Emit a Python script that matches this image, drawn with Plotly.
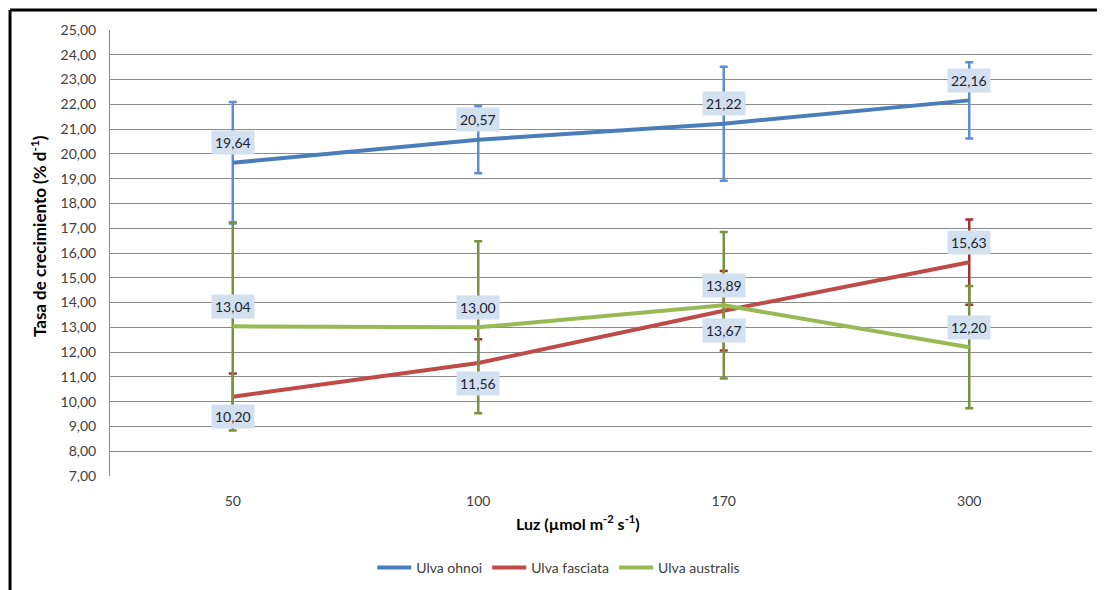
import plotly.graph_objects as go

categories = ["50", "100", "170", "300"]
ohnoi = [19.64, 20.57, 21.22, 22.16]
ohnoi_err = [2.45, 1.35, 2.30, 1.54]
fasciata = [10.20, 11.56, 13.67, 15.63]
fasciata_err = [0.94, 0.96, 1.60, 1.72]
australis = [13.04, 13.00, 13.89, 12.20]
australis_err = [4.20, 3.47, 2.96, 2.47]
y_ticks = [7 + i for i in range(19)]
y_ticktext = [f"{v:.2f}".replace(".", ",") for v in y_ticks]

series = [
    ("Ulva ohnoi", ohnoi, ohnoi_err, "#4A7EBB", "#5A8FD6", [1, 1, 1, 1]),
    ("Ulva fasciata", fasciata, fasciata_err, "#BE4B48", "#A33330", [-1, -1, -1, 1]),
    ("Ulva australis", australis, australis_err, "#98B954", "#77933C", [1, 1, 1, 1]),
]

xpos = list(range(len(categories)))
fig = go.Figure()
FONT = "Lato, 'Open Sans', sans-serif"

for name, vals, errs, col, ecol, sides in series:
    fig.add_trace(go.Scatter(
        x=xpos, y=vals, name=name, mode="lines",
        line=dict(color=col, width=4),
        error_y=dict(type="data", array=errs, visible=True, color=ecol,
                     thickness=2.5, width=4),
    ))

annotations = []
for name, vals, errs, col, ecol, sides in series:
    for xi, v, s in zip(xpos, vals, sides):
        annotations.append(dict(
            x=xi, y=v, xref="x", yref="y", text=f"{v:.2f}".replace(".", ","),
            showarrow=False, yshift=20 * s,
            bgcolor="#D3E0F0", borderpad=3,
            font=dict(family=FONT, size=14, color="#1A2433"),
        ))

annotations.append(dict(
    x=0.4766, y=-0.105, xref="paper", yref="paper", showarrow=False,
    xanchor="center", yanchor="middle",
    text="<b>Luz (µmol m<sup>-2</sup> s<sup>-1</sup>)</b>",
    font=dict(family=FONT, size=16, color="black"),
))
annotations.append(dict(
    x=-0.0733, y=0.538, xref="paper", yref="paper", showarrow=False,
    xanchor="center", yanchor="middle", textangle=-90,
    text="<b>Tasa de crecimiento (% d<sup>-1</sup>)</b>",
    font=dict(family=FONT, size=17, color="black"),
))

fig.update_layout(
    width=1105, height=590,
    margin=dict(l=102, r=21, t=22, b=122, autoexpand=False),
    paper_bgcolor="white", plot_bgcolor="white",
    font=dict(family=FONT, size=14, color="#404040"),
    showlegend=True,
    legend=dict(orientation="h", x=0.457, xanchor="center", y=-0.206, yanchor="middle",
                font=dict(family=FONT, size=14, color="#404040"),
                itemwidth=34, tracegroupgap=0),
    annotations=annotations,
    shapes=[
        dict(type="line", xref="paper", yref="paper", x0=-0.1018, x1=1.05,
             y0=1.0448, y1=1.0448, line=dict(color="black", width=3)),
        dict(type="line", xref="paper", yref="paper", x0=-0.1018, x1=-0.1018,
             y0=1.0448, y1=-0.30, line=dict(color="black", width=3)),
    ],
)

fig.update_xaxes(
    range=[-0.5, 3.5], tickvals=xpos, ticktext=categories,
    showgrid=False, zeroline=False, automargin=False,
    showline=False, ticks="outside", ticklen=12, tickcolor="rgba(0,0,0,0)",
    tickfont=dict(family=FONT, size=14, color="#404040"),
)
fig.update_yaxes(
    range=[7, 25], tickvals=y_ticks, ticktext=y_ticktext, automargin=False,
    showgrid=True, gridcolor="#8C8C8C", gridwidth=1,
    showline=True, linecolor="#8C8C8C", linewidth=1, zeroline=False,
    ticks="outside", ticklen=10, tickcolor="rgba(0,0,0,0)",
    tickfont=dict(family=FONT, size=14, color="#404040"),
)

fig.write_html("out.html")
